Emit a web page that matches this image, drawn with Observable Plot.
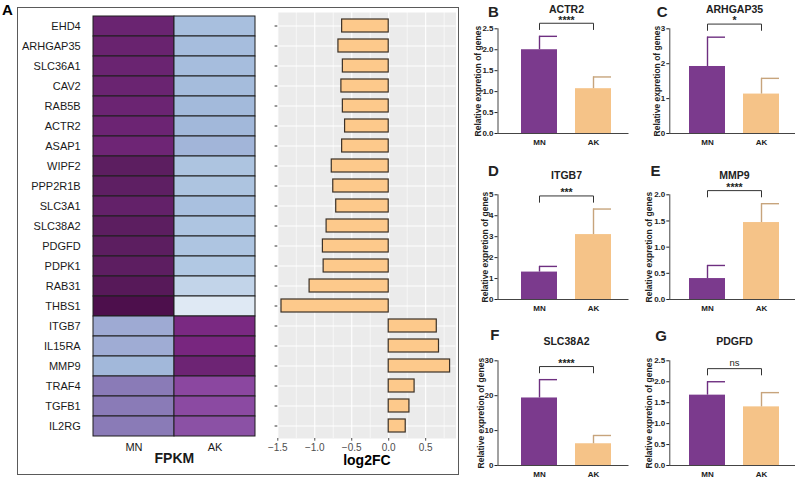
<!DOCTYPE html>
<html>
<head>
<meta charset="utf-8">
<script src="https://cdn.jsdelivr.net/npm/d3@7"></script>
<script src="https://cdn.jsdelivr.net/npm/@observablehq/plot@0.6"></script>
<style>
  body { margin: 0; background: #fff; font-family: "Liberation Sans", Arial, sans-serif; }
  #fig { position: relative; width: 800px; height: 481px; overflow: hidden; background: #fff; }
  .part { position: absolute; }
  .part svg { overflow: visible; }
  #boxA { position: absolute; left: 17px; top: 7px; width: 442px; height: 468px; border: 1.3px solid #5a5a5a; box-sizing: border-box; }
  #labelA { position: absolute; left: 2px; top: 1px; font: bold 15px "Liberation Sans", Arial, sans-serif; }
</style>
</head>
<body>
<div id="fig">
  <div id="boxA"></div>
  <div id="labelA">A</div>
</div>
<script>
// ---- Panel A: differentially expressed genes ----
const genes = ["EHD4","ARHGAP35","SLC36A1","CAV2","RAB5B","ACTR2","ASAP1","WIPF2","PPP2R1B",
  "SLC3A1","SLC38A2","PDGFD","PDPK1","RAB31","THBS1","ITGB7","IL15RA","MMP9","TRAF4","TGFB1","IL2RG"];
const groups = ["MN", "AK"];
// relative FPKM level (0 = low, 1 = high) per gene and group
const mnLevel = [0.885,0.89,0.885,0.885,0.88,0.875,0.86,0.94,0.93,0.91,0.94,0.94,0.935,0.96,0.995,
  0.42,0.41,0.36,0.55,0.55,0.55];
const akLevel = [0.32,0.33,0.33,0.34,0.35,0.36,0.37,0.29,0.29,0.31,0.28,0.28,0.26,0.20,0.10,
  0.79,0.80,0.87,0.70,0.69,0.67];
const log2FC = [-0.63,-0.68,-0.62,-0.64,-0.62,-0.59,-0.63,-0.77,-0.75,-0.71,-0.84,-0.89,-0.88,-1.07,-1.45,
  0.65,0.68,0.83,0.35,0.28,0.23];

// ---- Panels B-G: qPCR validation (mean and SD) ----
const qpcrGenes = ["ACTR2","ARHGAP35","ITGB7","MMP9","SLC38A2","PDGFD"];
const panelLetters = ["B","C","D","E","F","G"];
const qpcrMean = [[2.00,1.07],[1.92,1.13],[1.31,3.10],[0.40,1.47],[19.35,6.23],[1.68,1.40]];
const qpcrSD   = [[0.32,0.28],[0.84,0.45],[0.27,1.22],[0.25,0.36],[5.25,2.37],[0.32,0.34]];
const significance = ["****","*","***","****","****","ns"];
const yMax  = [2.5, 3, 5, 2, 30, 2.5];
const yStep = [0.5, 1, 1, 0.5, 10, 0.5];

const FONT = "'Liberation Sans', Arial, sans-serif";
const MN_COLOR = "#7b3a8d", AK_COLOR = "#f5c388";
const MN_ERR = "#6e2f80", AK_ERR = "#c7a47c";

const fig = document.getElementById("fig");
function place(node, left, top) {
  const d = document.createElement("div");
  d.className = "part";
  d.style.left = left + "px";
  d.style.top = top + "px";
  d.appendChild(node);
  fig.appendChild(d);
}

// heatmap of FPKM levels
const heatData = genes.flatMap((g, i) => [
  {gene: g, group: "MN", level: mnLevel[i]},
  {gene: g, group: "AK", level: akLevel[i]}
]);
place(Plot.plot({
  width: 260, height: 470,
  marginLeft: 92.7, marginRight: 5, marginTop: 14, marginBottom: 33,
  style: {fontFamily: FONT, background: "transparent", color: "#1a1a1a"},
  x: {domain: groups, padding: 0, label: null},
  y: {domain: genes, padding: 0, label: null},
  color: {
    type: "linear", interpolate: "rgb",
    domain: [0, 0.1, 0.25, 0.35, 0.42, 0.55, 0.7, 0.8, 0.88, 0.94, 1],
    range: ["#eef3f9","#dfe9f4","#b3cae4","#a3badb","#9eaad3","#8a7bb7","#8b47a0","#78267f","#6b2472","#5c1e60","#4c0e4a"]
  },
  marks: [
    Plot.cell(heatData, {x: "group", y: "gene", fill: "level", stroke: "#1e1e1e", strokeWidth: 1, inset: 0}),
    Plot.axisY({tickSize: 0, tickPadding: 12.5, fontSize: 11, label: null}),
    Plot.axisX({tickSize: 0, tickPadding: 6, fontSize: 11, label: null}),
    Plot.text(["FPKM"], {frameAnchor: "bottom", dy: 25.5, fontSize: 14, fontWeight: "bold"})
  ]
}), 0, 0);

// log2 fold change bars
const fcRows = genes.map((g, i) => ({gene: g, fc: log2FC[i]}));
const majorFC = [-1.5, -1, -0.5, 0, 0.5];
const minorFC = [-1.25, -0.75, -0.25, 0.25, 0.75];
place(Plot.plot({
  width: 200, height: 470,
  marginLeft: 17.3, marginRight: 4.5, marginTop: 12, marginBottom: 32,
  style: {fontFamily: FONT, background: "transparent"},
  x: {domain: [-1.5, 0.91], label: null},
  y: {domain: genes, paddingInner: 0.37, paddingOuter: 0.26, label: null},
  marks: [
    Plot.frame({fill: "#ebebeb", stroke: null}),
    Plot.gridX({ticks: minorFC, stroke: "#fff", strokeOpacity: 1, strokeWidth: 0.6}),
    Plot.gridX({ticks: majorFC, stroke: "#fff", strokeOpacity: 1, strokeWidth: 1.1}),
    Plot.gridY({stroke: "#fff", strokeOpacity: 1, strokeWidth: 1.1}),
    Plot.barX(fcRows, {y: "gene", x: "fc", fill: "#fdc98b", stroke: "#3b3127", strokeWidth: 1.2}),
    Plot.axisX({ticks: majorFC, tickFormat: d3.format(".1f"), tickSize: 2.7, tickPadding: 2.3,
      fontSize: 10, color: "#4d4d4d", label: null}),
    Plot.axisY({tickSize: 2.7, tickFormat: () => "", color: "#333", label: null}),
    Plot.text(["log2FC"], {frameAnchor: "bottom", dy: 26.5, fontSize: 14, fontWeight: "bold"})
  ]
}), 260, 0);

// qPCR bar charts, two columns by three rows
const letterPos = [[-4.5, -16.5], [-7.6, -16.3], [-4.5, -23.7], [-14.3, -23.3], [-3.2, -25.4], [-8.6, -25]];
function qpcrPanel(k) {
  const col = k % 2, row = Math.floor(k / 2);
  const ox = col ? 608 : 440, oy = row * 166;
  const mL = col ? 61.3 : 57.5, mT = 28.3;
  const width = col ? 192 : 190, mR = col ? 5 : 1.5;
  const rows = groups.map((g, j) => ({group: g, mean: qpcrMean[k][j], sd: qpcrSD[k][j]}));
  const ymax = yMax[k], step = yStep[k];
  const ticks = d3.range(0, ymax + step / 2, step);
  const fmt = step < 1 ? d3.format(".1f") : d3.format("d");
  const errTop = Math.max(...rows.map(r => r.mean + r.sd));
  const bY = errTop + 0.125 * ymax, hook = 0.06 * ymax;
  const bracket = [
    {group: "MN", y: bY - hook}, {group: "MN", y: bY},
    {group: "AK", y: bY}, {group: "AK", y: bY - hook}
  ];
  const chars = Math.max(...ticks.map(t => fmt(t).length));
  const labelOffset = 9 + 3.7 * chars;
  const mid = 126 - mL;
  const ns = significance[k] === "ns";
  const errColor = d => d.group === "MN" ? MN_ERR : AK_ERR;
  return place(Plot.plot({
    width, height: 166, marginLeft: mL, marginRight: mR, marginTop: mT, marginBottom: 33,
    style: {fontFamily: FONT, background: "transparent", color: "#222"},
    x: {domain: groups, range: [81, 171], paddingInner: 1 / 3, paddingOuter: 0, label: null},
    y: {domain: [0, ymax], label: null},
    color: {domain: groups, range: [MN_COLOR, AK_COLOR]},
    marks: [
      Plot.barY(rows, {x: "group", y: "mean", fill: "group"}),
      Plot.ruleX(rows, {x: "group", y1: "mean", y2: d => d.mean + d.sd, stroke: errColor, strokeWidth: 1.4}),
      Plot.tickY(rows, {x: "group", y: d => d.mean + d.sd, insetLeft: 18, stroke: errColor, strokeWidth: 1.4}),
      Plot.frame({anchor: "left", stroke: "#444"}),
      Plot.ruleY([0], {stroke: "#444"}),
      Plot.axisY({ticks, tickFormat: fmt, tickSize: 3, tickPadding: 1.5, fontSize: 8, fontWeight: "bold", label: null}),
      Plot.axisX({tickSize: 0, tickPadding: 6, fontSize: 8, fontWeight: "bold", label: null}),
      Plot.line(bracket, {x: "group", y: "y", stroke: "#333", strokeWidth: 1}),
      Plot.text([significance[k]], {y: [bY], frameAnchor: "left", dx: mid, textAnchor: "middle",
        lineAnchor: "middle", dy: ns ? -6 : -3,
        fontSize: ns ? 9.5 : 10.5, fontWeight: ns ? "normal" : "bold"}),
      Plot.text([qpcrGenes[k]], {frameAnchor: "top-left", dx: mid, dy: -19.5,
        textAnchor: "middle", lineAnchor: "middle", fontSize: 10.5, fontWeight: "bold"}),
      Plot.text([panelLetters[k]], {frameAnchor: "top-left", dx: letterPos[k][0], dy: letterPos[k][1],
        textAnchor: "middle", lineAnchor: "middle", fontSize: 15, fontWeight: "bold"}),
      Plot.text(["Relative expretion of genes"], {frameAnchor: "left", rotate: -90, dx: -labelOffset,
        textAnchor: "middle", lineAnchor: "middle", fontSize: 8.5, fontWeight: "bold"})
    ]
  }), ox, oy);
}
qpcrGenes.forEach((_, k) => qpcrPanel(k));
</script>
</body>
</html>
